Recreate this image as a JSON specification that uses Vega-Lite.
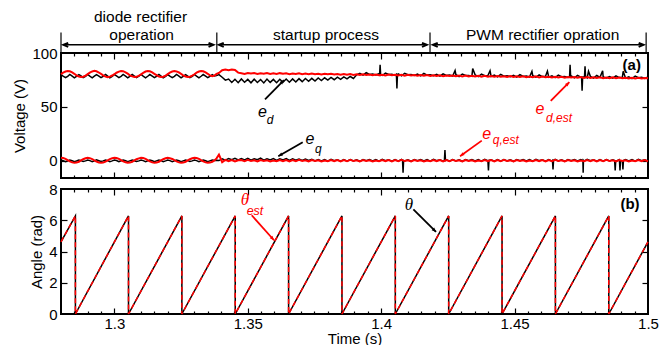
{
  "$schema": "https://vega.github.io/schema/vega-lite/v6.json",
  "background": "white",
  "padding": {"left": 11, "top": 9, "right": 5, "bottom": 0},
  "spacing": 1,
  "config": {
    "view": {"stroke": "black", "strokeWidth": 2},
    "font": "Liberation Sans",
    "line": {"invalid": "filter"},
    "axis": {"labelFont": "Liberation Sans", "labelFontSize": 15, "labelColor": "#000", "titleFont": "Liberation Sans", "titleFontSize": 15, "titleFontWeight": "normal", "titleColor": "#000", "grid": false, "domain": false, "tickColor": "#000", "tickWidth": 1.2, "labelFlush": false}
  },
  "datasets": {
    "v": [
      {"t":1.2800,"ed":80.0,"ee":80.3,"eq":0.7,"qe":2.7},{"t":1.2808,"ed":78.6,"ee":81.7,"eq":0.1,"qe":2.5},{"t":1.2817,"ed":77.1,"ee":82.8,"eq":-0.8,"qe":1.7},{"t":1.2825,"ed":78.4,"ee":83.3,"eq":-0.1,"qe":0.5},{"t":1.2833,"ed":80.1,"ee":83.0,"eq":0.7,"qe":-0.6},{"t":1.2842,"ed":78.5,"ee":82.0,"eq":0.0,"qe":-1.5},{"t":1.2850,"ed":77.0,"ee":80.7,"eq":-0.8,"qe":-1.9},{"t":1.2858,"ed":78.3,"ee":79.3,"eq":-0.2,"qe":-1.7},{"t":1.2867,"ed":80.0,"ee":78.2,"eq":0.6,"qe":-0.9},{"t":1.2875,"ed":78.7,"ee":77.7,"eq":0.1,"qe":0.3},{"t":1.2883,"ed":77.2,"ee":78.0,"eq":-0.7,"qe":1.4},{"t":1.2892,"ed":78.4,"ee":79.0,"eq":-0.1,"qe":2.3},
      {"t":1.2900,"ed":80.1,"ee":80.4,"eq":0.7,"qe":2.8},{"t":1.2908,"ed":78.5,"ee":81.8,"eq":0.1,"qe":2.4},{"t":1.2917,"ed":77.0,"ee":82.9,"eq":-0.8,"qe":1.6},{"t":1.2925,"ed":78.5,"ee":83.4,"eq":-0.1,"qe":0.4},{"t":1.2933,"ed":80.0,"ee":83.0,"eq":0.8,"qe":-0.7},{"t":1.2942,"ed":78.6,"ee":81.9,"eq":0.0,"qe":-1.6},{"t":1.2950,"ed":77.1,"ee":80.6,"eq":-0.7,"qe":-1.9},{"t":1.2958,"ed":78.4,"ee":79.2,"eq":-0.1,"qe":-1.6},{"t":1.2967,"ed":80.1,"ee":78.1,"eq":0.7,"qe":-0.8},{"t":1.2975,"ed":78.6,"ee":77.6,"eq":0.1,"qe":0.4},{"t":1.2983,"ed":77.0,"ee":78.1,"eq":-0.8,"qe":1.5},{"t":1.2992,"ed":78.3,"ee":79.1,"eq":-0.1,"qe":2.3},
      {"t":1.3000,"ed":80.0,"ee":80.3,"eq":0.6,"qe":2.7},{"t":1.3008,"ed":78.7,"ee":81.7,"eq":0.2,"qe":2.5},{"t":1.3017,"ed":77.1,"ee":82.7,"eq":-0.8,"qe":1.7},{"t":1.3025,"ed":78.4,"ee":83.2,"eq":0.0,"qe":0.5},{"t":1.3033,"ed":80.1,"ee":83.1,"eq":0.7,"qe":-0.6},{"t":1.3042,"ed":78.5,"ee":82.1,"eq":0.1,"qe":-1.4},{"t":1.3050,"ed":77.0,"ee":80.8,"eq":-0.8,"qe":-1.9},{"t":1.3058,"ed":78.3,"ee":79.3,"eq":-0.1,"qe":-1.7},{"t":1.3067,"ed":80.0,"ee":78.3,"eq":0.7,"qe":-0.9},{"t":1.3075,"ed":78.6,"ee":77.7,"eq":0.0,"qe":0.3},{"t":1.3083,"ed":77.1,"ee":77.9,"eq":-0.7,"qe":1.4},{"t":1.3092,"ed":78.5,"ee":78.9,"eq":-0.1,"qe":2.2},
      {"t":1.3100,"ed":80.1,"ee":80.2,"eq":0.7,"qe":2.7},{"t":1.3108,"ed":78.6,"ee":81.6,"eq":0.1,"qe":2.5},{"t":1.3117,"ed":77.0,"ee":82.8,"eq":-0.8,"qe":1.8},{"t":1.3125,"ed":78.4,"ee":83.3,"eq":-0.1,"qe":0.6},{"t":1.3133,"ed":80.0,"ee":83.0,"eq":0.7,"qe":-0.5},{"t":1.3142,"ed":78.5,"ee":82.0,"eq":0.0,"qe":-1.5},{"t":1.3150,"ed":77.1,"ee":80.7,"eq":-0.8,"qe":-1.9},{"t":1.3158,"ed":78.4,"ee":79.4,"eq":-0.1,"qe":-1.7},{"t":1.3167,"ed":80.1,"ee":78.2,"eq":0.7,"qe":-0.9},{"t":1.3175,"ed":78.6,"ee":77.8,"eq":0.1,"qe":0.3},{"t":1.3183,"ed":77.0,"ee":78.0,"eq":-0.8,"qe":1.4},{"t":1.3192,"ed":78.4,"ee":79.0,"eq":-0.1,"qe":2.3},
      {"t":1.3200,"ed":80.0,"ee":80.4,"eq":0.7,"qe":2.7},{"t":1.3208,"ed":78.5,"ee":81.8,"eq":0.1,"qe":2.4},{"t":1.3217,"ed":77.1,"ee":82.8,"eq":-0.8,"qe":1.7},{"t":1.3225,"ed":78.3,"ee":83.3,"eq":-0.1,"qe":0.5},{"t":1.3233,"ed":80.1,"ee":82.9,"eq":0.7,"qe":-0.6},{"t":1.3242,"ed":78.6,"ee":81.9,"eq":0.0,"qe":-1.5},{"t":1.3250,"ed":77.0,"ee":80.6,"eq":-0.8,"qe":-1.8},{"t":1.3258,"ed":78.4,"ee":79.3,"eq":-0.1,"qe":-1.7},{"t":1.3267,"ed":80.0,"ee":78.2,"eq":0.7,"qe":-0.9},{"t":1.3275,"ed":78.6,"ee":77.7,"eq":0.1,"qe":0.3},{"t":1.3283,"ed":77.1,"ee":78.0,"eq":-0.7,"qe":1.4},{"t":1.3292,"ed":78.4,"ee":79.0,"eq":-0.1,"qe":2.3},
      {"t":1.3300,"ed":80.1,"ee":80.3,"eq":0.7,"qe":2.7},{"t":1.3308,"ed":78.6,"ee":81.7,"eq":0.1,"qe":2.5},{"t":1.3317,"ed":77.0,"ee":82.8,"eq":-0.8,"qe":1.7},{"t":1.3325,"ed":78.4,"ee":83.3,"eq":-0.1,"qe":0.5},{"t":1.3333,"ed":80.0,"ee":83.0,"eq":0.7,"qe":-0.6},{"t":1.3342,"ed":78.5,"ee":82.0,"eq":0.0,"qe":-1.5},{"t":1.3350,"ed":77.1,"ee":80.7,"eq":-0.8,"qe":-1.9},{"t":1.3358,"ed":78.4,"ee":79.3,"eq":-0.1,"qe":-1.7},{"t":1.3367,"ed":80.0,"ee":78.4,"eq":0.7,"qe":-0.9},{"t":1.3375,"ed":78.6,"ee":79.0,"eq":0.2,"qe":0.3},{"t":1.3383,"ed":79.0,"ee":80.6,"eq":0.5,"qe":2.2},
      {"t":1.3392,"ed":80.0,"ee":81.5,"eq":0.2,"qe":5.6},{"t":1.3404,"ed":77.5,"ee":84.0,"eq":1.8,"qe":-1.3},{"t":1.3416,"ed":74.8,"ee":84.6,"eq":0.6,"qe":0.8},{"t":1.3428,"ed":75.8,"ee":84.1,"eq":2.1,"qe":-0.4},{"t":1.3440,"ed":72.6,"ee":84.7,"eq":0.9,"qe":0.6},{"t":1.3452,"ed":75.6,"ee":84.2,"eq":2.3,"qe":-0.7},{"t":1.3464,"ed":72.4,"ee":81.8,"eq":0.7,"qe":0.5},{"t":1.3476,"ed":75.9,"ee":81.2,"eq":2.0,"qe":0.6},{"t":1.3488,"ed":72.8,"ee":80.6,"eq":0.8,"qe":-0.5},{"t":1.3500,"ed":75.5,"ee":81.5,"eq":2.2,"qe":0.8},
      {"t":1.3512,"ed":72.3,"ee":80.9,"eq":0.5,"qe":-0.3},{"t":1.3524,"ed":75.7,"ee":81.4,"eq":1.9,"qe":0.4},{"t":1.3536,"ed":72.6,"ee":80.6,"eq":0.9,"qe":-0.7},{"t":1.3548,"ed":75.4,"ee":81.2,"eq":2.4,"qe":0.7},{"t":1.3560,"ed":72.2,"ee":80.8,"eq":0.6,"qe":-0.2},{"t":1.3572,"ed":75.8,"ee":81.5,"eq":1.8,"qe":0.5},{"t":1.3584,"ed":72.7,"ee":80.6,"eq":0.7,"qe":-0.6},{"t":1.3596,"ed":75.5,"ee":81.1,"eq":2.1,"qe":0.3},{"t":1.3608,"ed":72.4,"ee":80.5,"eq":0.4,"qe":-0.4},{"t":1.3620,"ed":75.6,"ee":81.3,"eq":1.9,"qe":0.7},
      {"t":1.3632,"ed":72.8,"ee":80.7,"eq":0.8,"qe":-0.3},{"t":1.3644,"ed":75.9,"ee":81.1,"eq":2.0,"qe":0.6},{"t":1.3656,"ed":72.9,"ee":80.4,"eq":0.3,"qe":-0.6},{"t":1.3668,"ed":76.0,"ee":81.0,"eq":1.7,"qe":0.6},{"t":1.3680,"ed":73.1,"ee":80.6,"eq":0.5,"qe":-0.5},{"t":1.3692,"ed":76.2,"ee":81.2,"eq":1.6,"qe":0.8},{"t":1.3704,"ed":73.4,"ee":80.4,"eq":0.2,"qe":-0.3},{"t":1.3716,"ed":76.4,"ee":80.9,"eq":1.5,"qe":0.4},{"t":1.3728,"ed":73.8,"ee":80.3,"eq":0.3,"qe":-0.7},{"t":1.3740,"ed":76.5,"ee":81.0,"eq":1.3,"qe":0.7},
      {"t":1.3752,"ed":74.0,"ee":80.4,"eq":-0.1,"qe":-0.2},{"t":1.3764,"ed":76.8,"ee":80.8,"eq":1.2,"qe":0.5},{"t":1.3776,"ed":74.4,"ee":80.1,"eq":-0.2,"qe":-0.6},{"t":1.3788,"ed":77.0,"ee":80.7,"eq":1.0,"qe":0.3},{"t":1.3800,"ed":74.8,"ee":80.2,"eq":-0.4,"qe":-0.4},{"t":1.3812,"ed":77.3,"ee":80.8,"eq":1.3,"qe":0.7},{"t":1.3824,"ed":75.2,"ee":80.0,"eq":0.0,"qe":-0.3},{"t":1.3836,"ed":77.6,"ee":80.6,"eq":0.8,"qe":0.6},{"t":1.3848,"ed":75.6,"ee":79.9,"eq":-0.3,"qe":-0.6},{"t":1.3860,"ed":77.9,"ee":80.5,"eq":1.0,"qe":0.6},
      {"t":1.3872,"ed":76.0,"ee":79.8,"eq":-0.3,"qe":-0.5},{"t":1.3884,"ed":78.2,"ee":80.4,"eq":1.2,"qe":0.8},{"t":1.3896,"ed":76.4,"ee":79.7,"eq":-0.1,"qe":-0.3},{"t":1.3908,"ed":79.8,"ee":80.3,"eq":0.9,"qe":0.4},{"t":1.3920,"ed":81.1,"ee":79.6,"eq":-0.5,"qe":-0.7},{"t":1.3932,"ed":79.4,"ee":80.2,"eq":1.1,"qe":0.7},{"t":1.3944,"ed":81.7,"ee":79.5,"eq":0.1,"qe":-0.2},{"t":1.3956,"ed":80.1,"ee":80.1,"eq":1.2,"qe":0.5},{"t":1.3968,"ed":80.4,"ee":79.4,"eq":-0.2,"qe":-0.6},{"t":1.3980,"ed":79.6,"ee":80.1,"eq":1.0,"qe":0.3},
      {"t":1.3992,"ed":80.8,"ee":79.3,"eq":-0.4,"qe":-0.4},{"t":1.4004,"ed":79.1,"ee":79.9,"eq":1.3,"qe":0.7},{"t":1.4016,"ed":81.4,"ee":79.2,"eq":0.0,"qe":-0.3},{"t":1.4028,"ed":80.0,"ee":80.0,"eq":0.8,"qe":0.6},{"t":1.4040,"ed":80.3,"ee":79.3,"eq":-0.3,"qe":-0.6},{"t":1.4052,"ed":79.3,"ee":79.8,"eq":1.0,"qe":0.6},{"t":1.4064,"ed":80.6,"ee":79.1,"eq":-0.3,"qe":-0.5},{"t":1.4076,"ed":78.9,"ee":79.7,"eq":1.2,"qe":0.8},{"t":1.4088,"ed":81.2,"ee":79.0,"eq":-0.1,"qe":-0.3},{"t":1.4100,"ed":79.8,"ee":79.8,"eq":0.9,"qe":0.4},
      {"t":1.4112,"ed":80.1,"ee":79.1,"eq":-0.5,"qe":-0.7},{"t":1.4124,"ed":79.1,"ee":79.6,"eq":1.1,"qe":0.7},{"t":1.4136,"ed":80.4,"ee":78.9,"eq":0.1,"qe":-0.2},{"t":1.4148,"ed":78.7,"ee":79.5,"eq":1.2,"qe":0.5},{"t":1.4160,"ed":81.0,"ee":78.8,"eq":-0.2,"qe":-0.6},{"t":1.4172,"ed":79.5,"ee":79.5,"eq":1.0,"qe":0.3},{"t":1.4184,"ed":79.7,"ee":78.7,"eq":-0.4,"qe":-0.4},{"t":1.4196,"ed":78.9,"ee":79.4,"eq":1.3,"qe":0.7},{"t":1.4208,"ed":80.1,"ee":78.6,"eq":0.0,"qe":-0.3},{"t":1.4220,"ed":78.5,"ee":79.3,"eq":0.8,"qe":0.6},
      {"t":1.4232,"ed":80.7,"ee":78.5,"eq":-0.3,"qe":-0.6},{"t":1.4244,"ed":79.2,"ee":79.2,"eq":1.0,"qe":0.6},{"t":1.4256,"ed":79.6,"ee":78.6,"eq":-0.3,"qe":-0.5},{"t":1.4268,"ed":78.6,"ee":79.1,"eq":1.2,"qe":0.8},{"t":1.4280,"ed":79.9,"ee":78.4,"eq":-0.1,"qe":-0.3},{"t":1.4292,"ed":78.2,"ee":79.0,"eq":0.9,"qe":0.4},{"t":1.4304,"ed":80.5,"ee":78.3,"eq":-0.5,"qe":-0.7},{"t":1.4316,"ed":79.1,"ee":79.1,"eq":1.1,"qe":0.7},{"t":1.4328,"ed":79.2,"ee":78.2,"eq":0.1,"qe":-0.2},{"t":1.4340,"ed":78.4,"ee":78.9,"eq":1.2,"qe":0.5},
      {"t":1.4352,"ed":79.8,"ee":78.3,"eq":-0.2,"qe":-0.6},{"t":1.4364,"ed":78.0,"ee":78.8,"eq":1.0,"qe":0.3},{"t":1.4376,"ed":80.3,"ee":78.1,"eq":-0.4,"qe":-0.4},{"t":1.4388,"ed":78.9,"ee":78.9,"eq":1.3,"qe":0.7},{"t":1.4400,"ed":79.0,"ee":78.0,"eq":0.0,"qe":-0.3},{"t":1.4412,"ed":78.2,"ee":78.7,"eq":0.8,"qe":0.6},{"t":1.4424,"ed":79.4,"ee":77.9,"eq":-0.3,"qe":-0.6},{"t":1.4436,"ed":77.8,"ee":78.6,"eq":1.0,"qe":0.6},{"t":1.4448,"ed":80.2,"ee":78.0,"eq":-0.3,"qe":-0.5},{"t":1.4460,"ed":78.5,"ee":78.5,"eq":1.2,"qe":0.8},
      {"t":1.4472,"ed":78.8,"ee":77.8,"eq":-0.1,"qe":-0.3},{"t":1.4484,"ed":78.1,"ee":78.6,"eq":0.9,"qe":0.4},{"t":1.4496,"ed":79.2,"ee":77.7,"eq":-0.5,"qe":-0.7},{"t":1.4508,"ed":77.6,"ee":78.4,"eq":1.1,"qe":0.7},{"t":1.4520,"ed":80.0,"ee":77.8,"eq":0.1,"qe":-0.2},{"t":1.4532,"ed":78.3,"ee":78.3,"eq":1.2,"qe":0.5},{"t":1.4544,"ed":78.6,"ee":77.6,"eq":-0.2,"qe":-0.6},{"t":1.4556,"ed":77.7,"ee":78.2,"eq":1.0,"qe":0.3},{"t":1.4568,"ed":79.0,"ee":77.5,"eq":-0.4,"qe":-0.4},{"t":1.4580,"ed":77.5,"ee":78.3,"eq":1.3,"qe":0.7},
      {"t":1.4592,"ed":79.6,"ee":77.4,"eq":0.0,"qe":-0.3},{"t":1.4604,"ed":78.1,"ee":78.1,"eq":0.8,"qe":0.6},{"t":1.4616,"ed":78.5,"ee":77.5,"eq":-0.3,"qe":-0.6},{"t":1.4628,"ed":77.5,"ee":78.0,"eq":1.0,"qe":0.6},{"t":1.4640,"ed":78.8,"ee":77.3,"eq":-0.3,"qe":-0.5},{"t":1.4652,"ed":77.1,"ee":77.9,"eq":1.2,"qe":0.8},{"t":1.4664,"ed":79.4,"ee":77.2,"eq":-0.1,"qe":-0.3},{"t":1.4676,"ed":78.0,"ee":78.0,"eq":0.9,"qe":0.4},{"t":1.4688,"ed":78.1,"ee":77.1,"eq":-0.5,"qe":-0.7},{"t":1.4700,"ed":77.3,"ee":77.8,"eq":1.1,"qe":0.7},
      {"t":1.4712,"ed":78.7,"ee":77.2,"eq":0.1,"qe":-0.2},{"t":1.4724,"ed":76.9,"ee":77.7,"eq":1.2,"qe":0.5},{"t":1.4736,"ed":79.2,"ee":77.0,"eq":-0.2,"qe":-0.6},{"t":1.4748,"ed":77.6,"ee":77.6,"eq":1.0,"qe":0.3},{"t":1.4760,"ed":77.9,"ee":76.9,"eq":-0.4,"qe":-0.4},{"t":1.4772,"ed":76.9,"ee":77.7,"eq":1.3,"qe":0.7},{"t":1.4784,"ed":78.3,"ee":76.8,"eq":0.0,"qe":-0.3},{"t":1.4796,"ed":76.7,"ee":77.5,"eq":0.8,"qe":0.6},{"t":1.4808,"ed":79.1,"ee":76.9,"eq":-0.3,"qe":-0.6},{"t":1.4820,"ed":77.4,"ee":77.4,"eq":1.0,"qe":0.6},
      {"t":1.4832,"ed":77.7,"ee":76.7,"eq":-0.3,"qe":-0.5},{"t":1.4844,"ed":76.8,"ee":77.3,"eq":1.2,"qe":0.8},{"t":1.4856,"ed":78.1,"ee":76.6,"eq":-0.1,"qe":-0.3},{"t":1.4868,"ed":76.6,"ee":77.4,"eq":0.9,"qe":0.4},{"t":1.4880,"ed":78.7,"ee":76.5,"eq":-0.5,"qe":-0.7},{"t":1.4892,"ed":77.2,"ee":77.2,"eq":1.1,"qe":0.7},{"t":1.4904,"ed":77.6,"ee":76.6,"eq":0.1,"qe":-0.2},{"t":1.4916,"ed":76.6,"ee":77.1,"eq":1.2,"qe":0.5},{"t":1.4928,"ed":77.9,"ee":76.4,"eq":-0.2,"qe":-0.6},{"t":1.4940,"ed":76.2,"ee":77.0,"eq":1.0,"qe":0.3},
      {"t":1.4952,"ed":78.5,"ee":76.3,"eq":-0.4,"qe":-0.4},{"t":1.4964,"ed":77.1,"ee":77.1,"eq":1.3,"qe":0.7},{"t":1.4976,"ed":77.4,"ee":76.4,"eq":0.0,"qe":-0.3},{"t":1.4988,"ed":76.4,"ee":76.9,"eq":0.8,"qe":0.6},{"t":1.5000,"ed":77.8,"ee":76.5,"eq":-0.3,"qe":-0.6},
      {"t":1.3994,"ed":80.0},{"t":1.3996,"ed":89.0},{"t":1.3998,"ed":79.6},
      {"t":1.4057,"ed":80.3},{"t":1.4059,"ed":67.0},{"t":1.4061,"ed":80.0},
      {"t":1.4277,"ed":83.8},{"t":1.4343,"ed":85.5},{"t":1.4408,"ed":83.5},{"t":1.4565,"ed":83.0},{"t":1.4623,"ed":83.2},
      {"t":1.4706,"ed":78.0},{"t":1.4708,"ed":89.0},{"t":1.4710,"ed":78.5},
      {"t":1.4751,"ed":77.8},{"t":1.4753,"ed":65.0},{"t":1.4755,"ed":77.5},
      {"t":1.4762,"ed":77.6},{"t":1.4764,"ed":87.7},{"t":1.4766,"ed":78.0},
      {"t":1.4777,"ed":83.0},{"t":1.4830,"ed":83.5},{"t":1.4907,"ed":83.0},
      {"t":1.4080,"eq":0.3},{"t":1.4082,"eq":-11},{"t":1.4084,"eq":0.2},
      {"t":1.4237,"eq":0.4},{"t":1.4239,"eq":10},{"t":1.4241,"eq":0.3},
      {"t":1.4402,"eq":-9},{"t":1.4404,"eq":0.4},
      {"t":1.4642,"eq":0.2},{"t":1.4644,"eq":-8},{"t":1.4646,"eq":0.3},
      {"t":1.4756,"eq":0.2},{"t":1.4757,"eq":-11},{"t":1.4758,"eq":0.3},
      {"t":1.4875,"eq":0.2},{"t":1.4877,"eq":-9},{"t":1.4879,"eq":0.1},
      {"t":1.4893,"eq":0.3},{"t":1.4895,"eq":-9},{"t":1.4897,"eq":0.2},
      {"t":1.4906,"eq":-8},{"t":1.4908,"eq":0.2}
    ],
    "th": [
      {"i":0,"t":1.2800,"a":4.62},{"i":1,"t":1.2854,"a":6.28},{"i":2,"t":1.2854,"a":0},
      {"i":3,"t":1.3053,"a":6.28},{"i":4,"t":1.3053,"a":0},
      {"i":5,"t":1.3253,"a":6.28},{"i":6,"t":1.3253,"a":0},
      {"i":7,"t":1.3453,"a":6.28},{"i":8,"t":1.3453,"a":0},
      {"i":9,"t":1.3653,"a":6.28},{"i":10,"t":1.3653,"a":0},
      {"i":11,"t":1.3853,"a":6.28},{"i":12,"t":1.3853,"a":0},
      {"i":13,"t":1.4053,"a":6.28},{"i":14,"t":1.4053,"a":0},
      {"i":15,"t":1.4253,"a":6.28},{"i":16,"t":1.4253,"a":0},
      {"i":17,"t":1.4453,"a":6.28},{"i":18,"t":1.4453,"a":0},
      {"i":19,"t":1.4653,"a":6.28},{"i":20,"t":1.4653,"a":0},
      {"i":21,"t":1.4853,"a":6.28},{"i":22,"t":1.4853,"a":0},
      {"i":23,"t":1.5000,"a":4.62}
    ]
  },
  "vconcat": [
    {
      "width": 587,
      "height": 125,
      "resolve": {"axis": {"x": "independent", "y": "independent"}},
      "layer": [
        {
          "data": {"name": "v"},
          "mark": {"type": "line", "color": "black", "strokeWidth": 1.5, "invalid": "filter"},
          "encoding": {
            "x": {"field": "t", "type": "quantitative", "scale": {"domain": [1.28, 1.5], "nice": false, "zero": false}, "axis": {"orient": "bottom", "values": [1.3, 1.35, 1.4, 1.45], "labels": false, "tickSize": -6, "title": null}},
            "y": {"field": "ed", "type": "quantitative", "scale": {"domain": [-16, 100], "nice": false, "zero": false}, "axis": {"orient": "left", "values": [0, 50, 100], "ticks": false, "labelPadding": 4, "title": "Voltage (V)", "titlePadding": 4}}
          }
        },
        {
          "data": {"name": "v"},
          "mark": {"type": "line", "color": "black", "strokeWidth": 1.5, "invalid": "filter"},
          "encoding": {
            "x": {"field": "t", "type": "quantitative", "axis": {"orient": "bottom", "values": [1.285,1.29,1.295,1.305,1.31,1.315,1.32,1.325,1.33,1.335,1.34,1.345,1.355,1.36,1.365,1.37,1.375,1.38,1.385,1.39,1.395,1.405,1.41,1.415,1.42,1.425,1.43,1.435,1.44,1.445,1.455,1.46,1.465,1.47,1.475,1.48,1.485,1.49,1.495], "labels": false, "tickSize": -3, "title": null}},
            "y": {"field": "eq", "type": "quantitative", "axis": {"orient": "left", "values": [0, 50], "labels": false, "tickSize": -6, "title": null}}
          }
        },
        {
          "data": {"name": "v"},
          "mark": {"type": "line", "color": "#ff0000", "strokeWidth": 2, "invalid": "filter"},
          "encoding": {
            "x": {"field": "t", "type": "quantitative", "axis": {"orient": "top", "values": [1.3, 1.35, 1.4, 1.45], "labels": false, "tickSize": -6, "title": null}},
            "y": {"field": "ee", "type": "quantitative", "axis": {"orient": "right", "values": [0, 50], "labels": false, "tickSize": -6, "title": null}}
          }
        },
        {
          "data": {"name": "v"},
          "mark": {"type": "line", "color": "#ff0000", "strokeWidth": 2, "invalid": "filter"},
          "encoding": {
            "x": {"field": "t", "type": "quantitative", "axis": {"orient": "top", "values": [1.285,1.29,1.295,1.305,1.31,1.315,1.32,1.325,1.33,1.335,1.34,1.345,1.355,1.36,1.365,1.37,1.375,1.38,1.385,1.39,1.395,1.405,1.41,1.415,1.42,1.425,1.43,1.435,1.44,1.445,1.455,1.46,1.465,1.47,1.475,1.48,1.485,1.49,1.495], "labels": false, "tickSize": -3, "title": null}},
            "y": {"field": "qe", "type": "quantitative", "axis": null}
          }
        },
        {
          "data": {"values": [{"t": 1.28}, {"t": 1.3384}, {"t": 1.4183}, {"t": 1.4993}]},
          "mark": {"type": "rule", "color": "black", "strokeWidth": 1.2},
          "encoding": {
            "x": {"field": "t", "type": "quantitative", "axis": null},
            "y": {"datum": 100, "axis": null},
            "y2": {"datum": 119.1}
          }
        },
        {
          "data": {"values": [{"a": 1.2809, "b": 1.3371}, {"a": 1.3392, "b": 1.4171}, {"a": 1.4194, "b": 1.4983}]},
          "mark": {"type": "rule", "color": "black", "strokeWidth": 1.5},
          "encoding": {
            "x": {"field": "a", "type": "quantitative", "axis": null},
            "x2": {"field": "b"},
            "y": {"datum": 107.6, "axis": null}
          }
        },
        {
          "data": {"values": [{"a": 1.2809}, {"a": 1.3392}, {"a": 1.4194}]},
          "mark": {"type": "point", "shape": "M1.2,-0.5L0,0L1.2,0.5", "filled": false, "color": "black", "strokeWidth": 2, "size": 64, "opacity": 1},
          "encoding": {
            "x": {"field": "a", "type": "quantitative", "axis": null},
            "y": {"datum": 107.6, "axis": null}
          }
        },
        {
          "data": {"values": [{"b": 1.3371}, {"b": 1.4171}, {"b": 1.4983}]},
          "mark": {"type": "point", "shape": "M-1.2,-0.5L0,0L-1.2,0.5", "filled": false, "color": "black", "strokeWidth": 2, "size": 64, "opacity": 1},
          "encoding": {
            "x": {"field": "b", "type": "quantitative", "axis": null},
            "y": {"datum": 107.6, "axis": null}
          }
        },
        {
          "data": {"values": [{"t": 1.3098, "y": 128.5, "s": "diode rectifier"}, {"t": 1.3102, "y": 112.2, "s": "operation"}, {"t": 1.3793, "y": 112.2, "s": "startup process"}, {"t": 1.4605, "y": 112.2, "s": "PWM rectifier opration"}]},
          "mark": {"type": "text", "font": "Liberation Sans", "fontSize": 15.5, "color": "black", "align": "center", "baseline": "alphabetic"},
          "encoding": {
            "x": {"field": "t", "type": "quantitative", "axis": null},
            "y": {"field": "y", "type": "quantitative", "axis": null},
            "text": {"field": "s"}
          }
        },
        {
          "data": {"values": [{"x": 1.35646, "y": 57.0, "x2": 1.36358, "y2": 74.9}, {"x": 1.37059, "y": 17.1, "x2": 1.36144, "y2": 4.2}]},
          "mark": {"type": "rule", "color": "black", "strokeWidth": 1.8},
          "encoding": {
            "x": {"field": "x", "type": "quantitative", "axis": null},
            "y": {"field": "y", "type": "quantitative", "axis": null},
            "x2": {"field": "x2"},
            "y2": {"field": "y2"}
          }
        },
        {
          "data": {"values": [{"x": 1.36358, "y": 74.9}]},
          "mark": {"type": "point", "shape": "M0,0L-0.45,1.1L0.45,1.1Z", "filled": true, "color": "black", "size": 64, "angle": 44, "opacity": 1},
          "encoding": {"x": {"field": "x", "type": "quantitative", "axis": null}, "y": {"field": "y", "type": "quantitative", "axis": null}}
        },
        {
          "data": {"values": [{"x": 1.36144, "y": 4.2}]},
          "mark": {"type": "point", "shape": "M0,0L-0.45,1.1L0.45,1.1Z", "filled": true, "color": "black", "size": 64, "angle": 240, "opacity": 1},
          "encoding": {"x": {"field": "x", "type": "quantitative", "axis": null}, "y": {"field": "y", "type": "quantitative", "axis": null}}
        },
        {
          "data": {"values": [{"x": 1.46355, "y": 55.5, "x2": 1.47052, "y2": 73.0}, {"x": 1.43769, "y": 18.7, "x2": 1.42955, "y2": 4.2}]},
          "mark": {"type": "rule", "color": "#ff0000", "strokeWidth": 1.8},
          "encoding": {
            "x": {"field": "x", "type": "quantitative", "axis": null},
            "y": {"field": "y", "type": "quantitative", "axis": null},
            "x2": {"field": "x2"},
            "y2": {"field": "y2"}
          }
        },
        {
          "data": {"values": [{"x": 1.47052, "y": 73.0}]},
          "mark": {"type": "point", "shape": "M0,0L-0.45,1.1L0.45,1.1Z", "filled": true, "color": "#ff0000", "size": 64, "angle": 44, "opacity": 1},
          "encoding": {"x": {"field": "x", "type": "quantitative", "axis": null}, "y": {"field": "y", "type": "quantitative", "axis": null}}
        },
        {
          "data": {"values": [{"x": 1.42955, "y": 4.2}]},
          "mark": {"type": "point", "shape": "M0,0L-0.45,1.1L0.45,1.1Z", "filled": true, "color": "#ff0000", "size": 64, "angle": 234, "opacity": 1},
          "encoding": {"x": {"field": "x", "type": "quantitative", "axis": null}, "y": {"field": "y", "type": "quantitative", "axis": null}}
        },
        {
          "data": {"values": [{"x": 1.35552, "y": 44.8, "s": "e"}, {"x": 1.37333, "y": 20.2, "s": "e"}]},
          "mark": {"type": "text", "font": "Liberation Sans", "fontStyle": "italic", "fontSize": 16, "color": "black", "align": "center", "baseline": "middle"},
          "encoding": {"x": {"field": "x", "type": "quantitative", "axis": null}, "y": {"field": "y", "type": "quantitative", "axis": null}, "text": {"field": "s"}}
        },
        {
          "data": {"values": [{"x": 1.35834, "y": 37.4, "s": "d"}, {"x": 1.37645, "y": 11.0, "s": "q"}]},
          "mark": {"type": "text", "font": "Liberation Sans", "fontStyle": "italic", "fontSize": 12, "color": "black", "align": "center", "baseline": "middle"},
          "encoding": {"x": {"field": "x", "type": "quantitative", "axis": null}, "y": {"field": "y", "type": "quantitative", "axis": null}, "text": {"field": "s"}}
        },
        {
          "data": {"values": [{"x": 1.45954, "y": 47.8, "s": "e"}, {"x": 1.43956, "y": 24.8, "s": "e"}]},
          "mark": {"type": "text", "font": "Liberation Sans", "fontStyle": "italic", "fontSize": 16, "color": "#ff0000", "align": "center", "baseline": "middle"},
          "encoding": {"x": {"field": "x", "type": "quantitative", "axis": null}, "y": {"field": "y", "type": "quantitative", "axis": null}, "text": {"field": "s"}}
        },
        {
          "data": {"values": [{"x": 1.46666, "y": 40.1, "s": "d,est"}, {"x": 1.44672, "y": 19.0, "s": "q,est"}]},
          "mark": {"type": "text", "font": "Liberation Sans", "fontStyle": "italic", "fontSize": 12, "color": "#ff0000", "align": "center", "baseline": "middle"},
          "encoding": {"x": {"field": "x", "type": "quantitative", "axis": null}, "y": {"field": "y", "type": "quantitative", "axis": null}, "text": {"field": "s"}}
        },
        {
          "data": {"values": [{"x": 1.4939, "y": 89.2, "s": "(a)"}]},
          "mark": {"type": "text", "font": "Liberation Sans", "fontWeight": "bold", "fontSize": 15, "color": "black", "align": "center", "baseline": "middle"},
          "encoding": {"x": {"field": "x", "type": "quantitative", "axis": null}, "y": {"field": "y", "type": "quantitative", "axis": null}, "text": {"field": "s"}}
        }
      ]
    },
    {
      "width": 587,
      "height": 125,
      "resolve": {"axis": {"x": "independent", "y": "independent"}},
      "layer": [
        {
          "data": {"name": "th"},
          "mark": {"type": "line", "color": "black", "strokeWidth": 1.5},
          "encoding": {
            "x": {"field": "t", "type": "quantitative", "scale": {"domain": [1.28, 1.5], "nice": false, "zero": false}, "axis": {"orient": "bottom", "values": [1.3, 1.35, 1.4, 1.45, 1.5], "format": "~g", "ticks": false, "labelPadding": 2, "title": "Time (s)", "titlePadding": 0}},
            "y": {"field": "a", "type": "quantitative", "scale": {"domain": [0, 8], "nice": false}, "axis": {"orient": "left", "values": [0, 2, 4, 6, 8], "ticks": false, "labelPadding": 4, "title": "Angle (rad)", "titlePadding": 4}},
            "order": {"field": "i"}
          }
        },
        {
          "data": {"name": "th"},
          "mark": {"type": "line", "color": "#ff0000", "strokeWidth": 1.5, "strokeDash": [5, 3]},
          "encoding": {
            "x": {"field": "t", "type": "quantitative", "axis": {"orient": "bottom", "values": [1.3, 1.35, 1.4, 1.45], "labels": false, "tickSize": -6, "title": null}},
            "y": {"field": "a", "type": "quantitative", "axis": {"orient": "left", "values": [2, 4, 6], "labels": false, "tickSize": -6, "title": null}},
            "order": {"field": "i"}
          }
        },
        {
          "data": {"values": [{"x": 1.35148, "y": 6.32, "x2": 1.35984, "y2": 4.72}]},
          "mark": {"type": "rule", "color": "#ff0000", "strokeWidth": 1.8},
          "encoding": {
            "x": {"field": "x", "type": "quantitative", "axis": {"orient": "bottom", "values": [1.285,1.29,1.295,1.305,1.31,1.315,1.32,1.325,1.33,1.335,1.34,1.345,1.355,1.36,1.365,1.37,1.375,1.38,1.385,1.39,1.395,1.405,1.41,1.415,1.42,1.425,1.43,1.435,1.44,1.445,1.455,1.46,1.465,1.47,1.475,1.48,1.485,1.49,1.495], "labels": false, "tickSize": -3, "title": null}},
            "y": {"field": "y", "type": "quantitative", "axis": {"orient": "right", "values": [2, 4, 6], "labels": false, "tickSize": -6, "title": null}},
            "x2": {"field": "x2"},
            "y2": {"field": "y2"}
          }
        },
        {
          "data": {"values": [{"x": 1.41206, "y": 6.70, "x2": 1.42056, "y2": 5.25}]},
          "mark": {"type": "rule", "color": "black", "strokeWidth": 1.8},
          "encoding": {
            "x": {"field": "x", "type": "quantitative", "axis": {"orient": "top", "values": [1.3, 1.35, 1.4, 1.45], "labels": false, "tickSize": -6, "title": null}},
            "y": {"field": "y", "type": "quantitative", "axis": null},
            "x2": {"field": "x2"},
            "y2": {"field": "y2"}
          }
        },
        {
          "data": {"values": [{"x": 1.35984, "y": 4.72}]},
          "mark": {"type": "point", "shape": "M0,0L-0.45,1.1L0.45,1.1Z", "filled": true, "color": "#ff0000", "size": 64, "angle": 138, "opacity": 1},
          "encoding": {
            "x": {"field": "x", "type": "quantitative", "axis": {"orient": "top", "values": [1.285,1.29,1.295,1.305,1.31,1.315,1.32,1.325,1.33,1.335,1.34,1.345,1.355,1.36,1.365,1.37,1.375,1.38,1.385,1.39,1.395,1.405,1.41,1.415,1.42,1.425,1.43,1.435,1.44,1.445,1.455,1.46,1.465,1.47,1.475,1.48,1.485,1.49,1.495], "labels": false, "tickSize": -3, "title": null}},
            "y": {"field": "y", "type": "quantitative", "axis": null}
          }
        },
        {
          "data": {"values": [{"x": 1.42056, "y": 5.25}]},
          "mark": {"type": "point", "shape": "M0,0L-0.45,1.1L0.45,1.1Z", "filled": true, "color": "black", "size": 64, "angle": 135, "opacity": 1},
          "encoding": {"x": {"field": "x", "type": "quantitative", "axis": null}, "y": {"field": "y", "type": "quantitative", "axis": null}}
        },
        {
          "data": {"values": [{"x": 1.34897, "y": 7.28, "s": "θ"}]},
          "mark": {"type": "text", "font": "Liberation Serif", "fontStyle": "italic", "fontSize": 17, "color": "#ff0000", "align": "center", "baseline": "middle"},
          "encoding": {"x": {"field": "x", "type": "quantitative", "axis": null}, "y": {"field": "y", "type": "quantitative", "axis": null}, "text": {"field": "s"}}
        },
        {
          "data": {"values": [{"x": 1.35270, "y": 6.62, "s": "est"}]},
          "mark": {"type": "text", "font": "Liberation Sans", "fontStyle": "italic", "fontSize": 12.5, "color": "#ff0000", "align": "center", "baseline": "middle"},
          "encoding": {"x": {"field": "x", "type": "quantitative", "axis": null}, "y": {"field": "y", "type": "quantitative", "axis": null}, "text": {"field": "s"}}
        },
        {
          "data": {"values": [{"x": 1.41043, "y": 6.96, "s": "θ"}]},
          "mark": {"type": "text", "font": "Liberation Serif", "fontStyle": "italic", "fontSize": 17, "color": "black", "align": "center", "baseline": "middle"},
          "encoding": {"x": {"field": "x", "type": "quantitative", "axis": null}, "y": {"field": "y", "type": "quantitative", "axis": null}, "text": {"field": "s"}}
        },
        {
          "data": {"values": [{"x": 1.49327, "y": 7.06, "s": "(b)"}]},
          "mark": {"type": "text", "font": "Liberation Sans", "fontWeight": "bold", "fontSize": 15, "color": "black", "align": "center", "baseline": "middle"},
          "encoding": {"x": {"field": "x", "type": "quantitative", "axis": null}, "y": {"field": "y", "type": "quantitative", "axis": null}, "text": {"field": "s"}}
        }
      ]
    }
  ]
}
